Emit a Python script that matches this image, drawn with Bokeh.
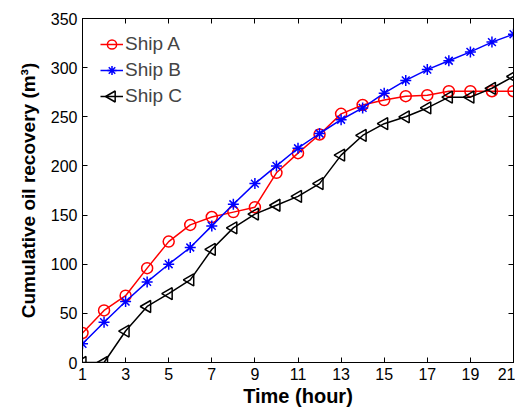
import numpy as np
from bokeh.plotting import figure
from bokeh.models import LinearAxis, FixedTicker, Range1d, Legend, LegendItem, PolyAnnotation
from bokeh.embed import file_html
from bokeh.resources import INLINE

hours = list(range(1, 22))
ship_a = [30, 53, 68, 96, 123, 140, 148, 153, 158, 193, 213, 232, 253, 262, 267, 271, 272, 276, 276, 276, 276]
ship_b = [19, 41, 62, 82, 100, 117, 139, 161, 182, 200, 218, 233, 247, 259, 274, 287, 298, 307, 316, 326, 334]
ship_c = [0, 0, 32, 57, 70, 84, 115, 137, 151, 160, 169, 182, 211, 231, 243, 250, 259, 270, 270, 279, 291]
x_ticks = list(range(1, 22, 2))
y_ticks = list(range(0, 351, 50))

FONT = "Liberation Sans"

p = figure(width=515, height=409, output_backend="svg", toolbar_location=None,
           x_range=Range1d(1, 21), y_range=Range1d(0, 350),
           min_border_left=82, min_border_right=2, min_border_top=18, min_border_bottom=47)
p.grid.visible = False
p.outline_line_color = "black"
p.outline_line_width = 1
p.background_fill_color = "white"

for ax in (p.xaxis[0], p.yaxis[0]):
    ax.major_tick_in = 5
    ax.major_tick_out = 0
    ax.minor_tick_in = 0
    ax.minor_tick_out = 0
    ax.axis_line_color = "black"
    ax.major_tick_line_color = "black"
    ax.major_label_text_font = FONT
    ax.major_label_text_font_size = "16px"
    ax.major_label_text_color = "black"
    ax.axis_label_text_font = FONT
    ax.axis_label_text_font_style = "bold"
    ax.axis_label_text_color = "black"

p.xaxis[0].ticker = FixedTicker(ticks=x_ticks)
p.yaxis[0].ticker = FixedTicker(ticks=y_ticks)
p.xaxis[0].axis_label = "Time (hour)"
p.xaxis[0].axis_label_text_font_size = "20px"
p.xaxis[0].major_label_standoff = 5
p.xaxis[0].axis_label_standoff = 2
p.yaxis[0].axis_label = "Cumulative oil recovery (m³)"
p.yaxis[0].axis_label_text_font_size = "19px"
p.yaxis[0].major_label_standoff = 5
p.yaxis[0].axis_label_standoff = 9

top = LinearAxis(ticker=FixedTicker(ticks=x_ticks), major_label_text_font_size="0px",
                 major_label_standoff=0, major_tick_in=5, major_tick_out=0,
                 minor_tick_in=0, minor_tick_out=0, axis_line_color="black")
top.major_label_text_alpha = 0
right = LinearAxis(ticker=FixedTicker(ticks=y_ticks), major_label_text_font_size="0px",
                   major_label_standoff=0, major_tick_in=5, major_tick_out=0,
                   minor_tick_in=0, minor_tick_out=0, axis_line_color="black")
right.major_label_text_alpha = 0
p.add_layout(top, "above")
p.add_layout(right, "right")

la = p.line(hours, ship_a, line_color="#FF0000", line_width=1.5)
ma = p.scatter(hours, ship_a, marker="circle", size=11, line_color="#FF0000", fill_color=None, line_width=1.5)
lb = p.line(hours, ship_b, line_color="#0000FF", line_width=1.5)
mb = p.scatter(hours, ship_b, marker="asterisk", size=11, line_color="#0000FF", line_width=1.5)
lc = p.line(hours, ship_c, line_color="black", line_width=1.5)
mc = p.scatter(hours, ship_c, marker="triangle", size=12, angle=np.pi / 2, line_color="black",
               fill_color=None, line_width=1.5)

# legend layout (pixels)
LEG_X, LEG_Y, GW, GH = 18, 253, 23, 26
legend = Legend(items=[LegendItem(label="Ship A", renderers=[la, ma]),
                       LegendItem(label="Ship B", renderers=[lb, mb]),
                       LegendItem(label="Ship C", renderers=[lc])],
                location=(LEG_X, LEG_Y), margin=0, padding=0, spacing=0,
                glyph_width=GW, glyph_height=GH, label_height=GH, label_standoff=2,
                label_text_font=FONT, label_text_font_size="19px",
                border_line_color=None, background_fill_alpha=0)
p.add_layout(legend, "center")

# left-pointing triangle symbol for the "Ship C" legend entry (legend glyphs ignore marker angle)
cx = 82 + LEG_X + GW / 2
cy = 31 + 2 * GH + GH / 2
r = 5.5
h = r * np.sqrt(3)
a = h / 3
tri = PolyAnnotation(xs=[cx - (h - a), cx + a, cx + a], ys=[cy, cy - r, cy + r],
                     xs_units="canvas", ys_units="canvas",
                     fill_alpha=0, line_color="black", line_width=1.5, line_alpha=1)
p.add_layout(tri)

open("out.html", "w").write(file_html(p, INLINE))
